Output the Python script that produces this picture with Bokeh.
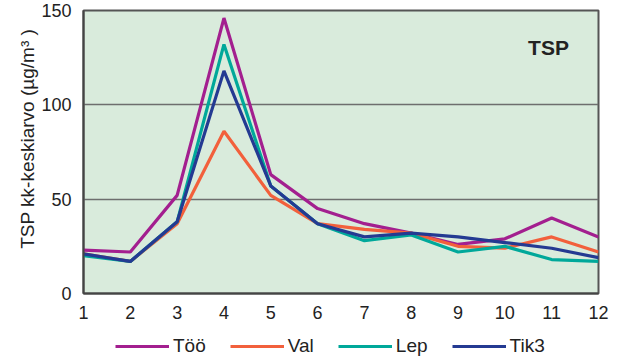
from bokeh.plotting import figure
from bokeh.layouts import column
from bokeh.models import Range1d, Legend, LegendItem, Label, FixedTicker
from bokeh.embed import file_html
from bokeh.resources import INLINE

months = [1, 2, 3, 4, 5, 6, 7, 8, 9, 10, 11, 12]
too = [23, 22, 52, 146, 63, 45, 37, 32, 26, 29, 40, 30]
val = [21, 17, 37, 86, 52, 37, 34, 32, 25, 24, 30, 22]
lep = [20, 17, 38, 132, 57, 37, 28, 31, 22, 25, 18, 17]
tik3 = [21, 17, 38, 118, 57, 37, 30, 32, 30, 27, 24, 19]
names = ["Töö", "Val", "Lep", "Tik3"]
colors = ["#a31f8f", "#f2603c", "#00a89a", "#243a92"]
series = [too, val, lep, tik3]

FONT = "Liberation Sans"

p = figure(width=612, height=330, output_backend="svg", toolbar_location=None,
           x_range=Range1d(1, 12), y_range=Range1d(0, 150),
           min_border_left=83, min_border_right=14, min_border_top=10, min_border_bottom=37)
p.background_fill_color = "#d9ebdc"
p.border_fill_color = "white"
p.outline_line_color = "#555555"
p.outline_line_width = 2

p.xgrid.grid_line_color = None
p.ygrid.ticker = FixedTicker(ticks=[50, 100])
p.ygrid.grid_line_color = "#6e6e6e"
p.ygrid.grid_line_width = 1.5

p.xaxis.ticker = FixedTicker(ticks=months)
p.yaxis.ticker = FixedTicker(ticks=[0, 50, 100, 150])
for ax in (p.xaxis, p.yaxis):
    ax.axis_line_color = "#444444"
    ax.axis_line_width = 2
    ax.major_tick_line_color = None
    ax.minor_tick_line_color = None
    ax.major_label_text_font = FONT
    ax.major_label_text_font_size = "18px"
    ax.major_label_text_color = "#222222"
    ax.axis_label_text_font = FONT
    ax.axis_label_text_font_size = "19px"
    ax.axis_label_text_font_style = "normal"
    ax.axis_label_text_color = "#222222"
p.yaxis.axis_label = "\u00a0" * 5 + "TSP kk-keskiarvo (µg/m³ )"
p.yaxis.major_label_standoff = 6
p.yaxis.axis_label_standoff = 0
p.xaxis.major_label_standoff = 6

for name, ys, c in zip(names, series, colors):
    p.line(months, ys, line_color=c, line_width=3.2)

p.add_layout(Label(x=465, y=246, x_units="screen", y_units="screen", text="TSP",
                   text_font=FONT, text_font_size="21px", text_font_style="bold",
                   text_align="center", text_baseline="middle", text_color="#222222"))

# legend strip (its frame is aligned with the main frame by the column layout)
lg = figure(width=612, height=32, output_backend="svg", toolbar_location=None,
            x_range=Range1d(100, 101), y_range=Range1d(1000, 1001),
            min_border_left=0, min_border_right=0, min_border_top=0, min_border_bottom=0)
lg.axis.visible = False
lg.grid.visible = False
lg.outline_line_color = None
lg.background_fill_color = "white"
items = []
for name, ys, c in zip(names, series, colors):
    r = lg.line(months, ys, line_color=c, line_width=3.2)
    items.append(LegendItem(label=name, renderers=[r]))
legend = Legend(items=items, orientation="horizontal", location=(32, 5),
                border_line_color=None, background_fill_alpha=0,
                label_text_font=FONT, label_text_font_size="19px",
                label_text_color="#222222", glyph_width=54, glyph_height=18,
                spacing=24, label_standoff=4, padding=2, margin=0)
lg.add_layout(legend, "center")

layout = column(p, lg, spacing=0)
open("out.html", "w").write(file_html(layout, INLINE))
